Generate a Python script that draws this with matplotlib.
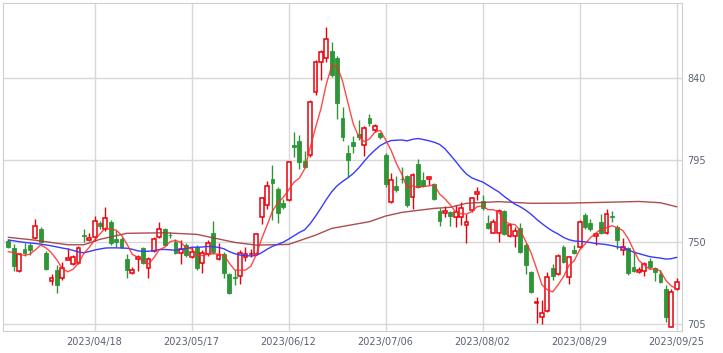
"""
Daily candlestick chart with 5/25/75-day moving averages (2023/03/27 - 2023/09/25).
"""
import matplotlib
matplotlib.use("Agg")
import matplotlib.pyplot as plt
import numpy as np
import pandas as pd

# TSE trading days in the window
JP_HOLIDAYS = ["2023-05-03", "2023-05-04", "2023-05-05", "2023-07-17", "2023-08-11", "2023-09-18"]
dates = pd.bdate_range("2023-03-27", "2023-09-25", freq="C", holidays=JP_HOLIDAYS)

opens = [
    750.4, 746.3, 734.0, 745.8, 748.1, 751.8, 756.8, 743.6, 728.5, 734.4,
    729.8, 740.0, 737.5, 738.1, 753.6, 750.9, 752.4, 760.5, 756.8, 761.0,
    751.3, 751.3, 740.3, 732.9, 740.3, 746.3, 735.3, 745.0, 752.4, 756.8,
    753.8, 750.0, 743.9, 748.0, 741.7, 746.9, 738.4, 743.2, 754.6, 740.3,
    743.2, 732.2, 730.7, 731.0, 741.7, 743.0, 743.2, 763.4, 770.2, 784.3,
    778.8, 771.4, 772.9, 803.1, 805.5, 794.5, 797.7, 832.5, 849.0, 850.8,
    854.9, 850.8, 817.8, 798.6, 804.6, 809.0, 803.1, 817.8, 811.4, 809.6,
    797.6, 772.0, 780.6, 784.6, 786.0, 774.4, 792.7, 783.9, 784.7, 781.7,
    766.8, 765.6, 766.1, 763.4, 763.8, 759.2, 767.4, 776.2, 772.3, 760.0,
    754.9, 754.6, 766.8, 753.1, 753.1, 757.7, 748.1, 733.5, 716.5, 708.4,
    712.0, 735.3, 732.0, 746.9, 730.4, 745.4, 747.2, 764.6, 760.1, 753.1,
    760.6, 754.6, 764.0, 758.2, 745.4, 746.3, 735.9, 733.5, 734.0, 739.5,
    735.3, 732.2, 723.9, 702.9, 723.9,
]
highs = [
    751.3, 748.9, 743.5, 749.0, 749.4, 762.3, 758.0, 744.7, 732.5, 737.0,
    739.0, 746.3, 742.5, 747.5, 757.0, 755.0, 764.2, 761.5, 769.2, 762.0,
    756.4, 752.5, 743.5, 736.0, 742.5, 747.2, 741.5, 752.5, 761.0, 757.5,
    755.5, 751.5, 750.9, 749.0, 747.0, 748.2, 745.3, 751.0, 761.4, 749.0,
    744.5, 733.0, 734.4, 745.4, 747.0, 746.0, 755.0, 774.7, 783.5, 792.2,
    780.3, 773.3, 794.6, 810.5, 808.5, 799.6, 828.0, 849.9, 855.4, 868.2,
    860.0, 852.0, 824.2, 803.1, 808.0, 816.9, 813.7, 820.0, 814.7, 810.5,
    798.6, 787.6, 786.1, 790.9, 786.6, 787.5, 795.6, 788.5, 786.0, 782.5,
    768.3, 769.6, 767.0, 770.0, 772.0, 765.0, 774.7, 780.2, 775.6, 764.7,
    762.5, 767.8, 767.5, 760.0, 757.8, 760.0, 749.0, 734.0, 719.7, 717.9,
    733.3, 737.7, 743.5, 748.1, 742.2, 748.1, 762.0, 766.0, 762.5, 755.0,
    765.0, 768.0, 766.8, 759.0, 751.8, 747.2, 745.0, 735.9, 739.0, 741.0,
    736.2, 734.4, 726.0, 724.0, 730.0,
]
lows = [
    746.3, 733.8, 733.5, 742.0, 742.6, 751.3, 749.0, 734.5, 726.0, 722.0,
    729.0, 739.8, 737.0, 737.5, 750.0, 750.5, 750.6, 757.0, 756.0, 748.0,
    747.2, 746.5, 730.0, 732.0, 733.8, 737.5, 730.0, 744.5, 752.0, 747.5,
    751.8, 743.0, 737.7, 741.5, 741.0, 734.5, 733.0, 742.0, 743.0, 740.0,
    730.0, 721.2, 726.1, 727.0, 739.5, 741.5, 742.5, 759.7, 768.0, 761.9,
    760.3, 767.8, 772.3, 796.7, 789.8, 790.5, 796.8, 830.6, 838.9, 849.0,
    840.7, 817.3, 805.5, 785.7, 799.0, 805.9, 797.0, 813.8, 810.5, 806.3,
    780.0, 771.4, 777.5, 782.0, 769.3, 768.0, 779.3, 779.9, 781.0, 772.9,
    758.8, 763.7, 758.5, 758.0, 759.2, 749.4, 766.5, 773.0, 767.4, 756.8,
    754.5, 750.0, 753.5, 752.4, 747.0, 743.6, 732.0, 722.0, 705.1, 704.6,
    711.5, 729.1, 731.5, 738.4, 727.0, 743.5, 746.3, 757.0, 756.0, 748.0,
    754.0, 754.2, 761.0, 746.0, 742.6, 731.8, 733.5, 732.6, 731.0, 734.8,
    728.5, 727.5, 706.0, 702.9, 723.5,
]
closes = [
    747.2, 736.6, 743.0, 743.6, 745.4, 758.8, 750.0, 734.8, 730.1, 726.1,
    735.3, 740.9, 741.7, 746.7, 753.0, 751.8, 761.5, 758.5, 762.8, 749.0,
    750.0, 747.2, 734.4, 734.4, 741.7, 738.1, 740.3, 751.3, 756.8, 748.1,
    753.4, 743.9, 745.8, 742.6, 744.5, 735.3, 743.9, 749.0, 744.5, 742.6,
    732.9, 721.9, 730.2, 743.9, 743.2, 743.3, 754.0, 773.8, 780.6, 782.4,
    765.6, 769.2, 794.0, 802.2, 793.9, 791.2, 827.0, 849.0, 854.5, 861.5,
    841.7, 826.4, 807.7, 794.9, 802.6, 807.4, 812.3, 815.0, 813.7, 807.4,
    781.7, 783.9, 778.4, 784.2, 770.2, 786.6, 780.2, 780.6, 785.6, 773.3,
    761.5, 766.8, 764.1, 766.1, 768.3, 760.6, 773.8, 777.5, 768.3, 757.7,
    760.6, 767.0, 754.2, 759.2, 755.9, 744.5, 737.1, 722.5, 717.0, 710.6,
    730.6, 731.1, 742.1, 739.0, 741.4, 743.9, 761.0, 757.9, 756.8, 754.0,
    754.6, 765.0, 763.5, 750.9, 746.9, 732.6, 734.0, 734.2, 737.7, 735.9,
    733.5, 728.0, 708.7, 722.5, 727.9,
]

# MA values before enough history is in the window
ma5_head = [744.5, 744.0, 743.0, 742.5]
ma25_head = [750.9, 750.5, 750.0, 749.6, 749.3, 749.0, 748.6, 748.2, 747.7, 747.1,
             746.5, 746.0, 745.2, 744.3, 743.9, 744.6, 745.4, 746.0, 746.5, 746.6,
             746.6, 746.5, 746.4, 745.8]
# 75-day MA at these trading-day positions
ma75_pos = [0, 5, 11, 14, 17, 22, 29, 35, 42, 46, 52, 57, 60, 67, 70, 73, 79, 82, 85,
            91, 97, 104, 110, 117, 121, 124]
ma75_val = [752.4, 750.8, 748.3, 748.3, 751.3, 754.6, 754.9, 754.0, 749.6, 748.1, 748.5,
            753.6, 757.3, 761.0, 764.1, 766.1, 768.3, 768.9, 771.1, 772.0, 771.1, 771.2,
            771.6, 772.1, 771.4, 769.2]

tick_dates = ["2023/04/18", "2023/05/17", "2023/06/12", "2023/07/06", "2023/08/02",
              "2023/08/29", "2023/09/25"]
y_ticks = [705, 750, 795, 840]

UP = "#e8000b"
DOWN = "#2e9637"

o = np.array(opens); h = np.array(highs); l = np.array(lows); c = np.array(closes)
x = np.arange(len(c))
cs = pd.Series(c)
ma5 = cs.rolling(5).mean().to_numpy()
ma5[:len(ma5_head)] = ma5_head
ma25 = cs.rolling(25).mean().to_numpy()
ma25[:len(ma25_head)] = ma25_head

fig = plt.figure(figsize=(7.23, 3.53), dpi=100)
ax = fig.add_axes([3 / 723, 22 / 353, 679 / 723, 328 / 353])

up = c >= o
dn = ~up
body_lo = np.minimum(o, c)
body_h = np.maximum(np.abs(c - o), 0.5)
W = 0.72

# wicks
ax.vlines(x[dn], l[dn], h[dn], color=DOWN, lw=1, zorder=2)
ax.vlines(x[up], l[up], h[up], color=UP, lw=1, zorder=2)
# bodies
ax.bar(x[dn], body_h[dn], W, bottom=body_lo[dn], color=DOWN, edgecolor=DOWN, lw=0.6, zorder=3)
ax.bar(x[up], body_h[up], W, bottom=body_lo[up], color="white", edgecolor=UP, lw=1.1, zorder=3)

# moving averages
ax.plot(ma75_pos, ma75_val, color="#a33a3a", lw=1, alpha=0.9, zorder=4)
ax.plot(x, ma25, color="#3a3aff", lw=1, zorder=4)
ax.plot(x, ma5, color="#ff2a2a", lw=1, alpha=0.85, zorder=4)

ax.set_xlim(-1, len(c))
ax.set_ylim(700.9, 881.2)

date_str = [d.strftime("%Y/%m/%d") for d in dates]
ax.set_xticks([date_str.index(t) for t in tick_dates])
ax.set_xticklabels(tick_dates)
ax.set_yticks(y_ticks)
ax.yaxis.tick_right()
ax.tick_params(length=0, labelsize=7, colors="#5b6270")
ax.tick_params(axis="y", pad=4)
ax.tick_params(axis="x", pad=4)
ax.grid(color="#d8d8d8", lw=1)
ax.set_axisbelow(True)
for s in ax.spines.values():
    s.set_color("#cfcfcf")

fig.savefig("out.png", dpi=100)
